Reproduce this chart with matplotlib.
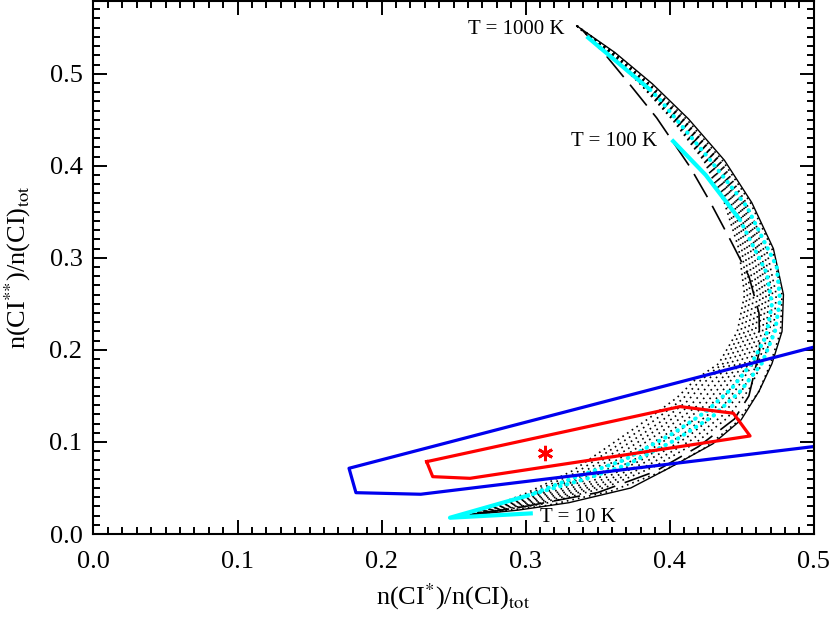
import matplotlib
matplotlib.use("Agg")
import matplotlib.pyplot as plt

plt.rcParams['font.family'] = ['Liberation Serif', 'DejaVu Serif']
plt.rcParams['mathtext.fontset'] = 'stix'

# Gestippelde modelcurves (van binnen naar buiten), bovendeel op vaste y, dan onderdeel
dot_x = [
    [0.3355, 0.358, 0.380, 0.402, 0.424, 0.438, 0.448, 0.452, 0.447, 0.434, 0.418, 0.405, 0.385, 0.360, 0.333, 0.300, 0.2614],
    [0.3355, 0.3585, 0.3805, 0.403, 0.425, 0.4395, 0.450, 0.454, 0.4495, 0.437, 0.4215, 0.4085, 0.3885, 0.363, 0.3355, 0.3015, 0.2614],
    [0.3355, 0.359, 0.381, 0.404, 0.426, 0.441, 0.452, 0.456, 0.452, 0.440, 0.425, 0.412, 0.392, 0.366, 0.338, 0.303, 0.2614],
    [0.3355, 0.359, 0.3815, 0.4045, 0.427, 0.4425, 0.454, 0.4585, 0.4545, 0.443, 0.429, 0.4155, 0.395, 0.369, 0.340, 0.304, 0.2614],
    [0.3355, 0.359, 0.382, 0.405, 0.428, 0.444, 0.456, 0.461, 0.457, 0.446, 0.433, 0.419, 0.398, 0.372, 0.342, 0.305, 0.2614],
    [0.3355, 0.3595, 0.383, 0.406, 0.4295, 0.4455, 0.458, 0.463, 0.4595, 0.449, 0.4365, 0.4225, 0.4015, 0.375, 0.3445, 0.3065, 0.2614],
    [0.3355, 0.360, 0.384, 0.407, 0.431, 0.447, 0.460, 0.465, 0.462, 0.452, 0.440, 0.426, 0.405, 0.378, 0.347, 0.308, 0.2614],
    [0.3355, 0.3605, 0.3845, 0.408, 0.432, 0.4485, 0.4615, 0.467, 0.4645, 0.455, 0.4435, 0.4295, 0.4085, 0.3805, 0.349, 0.309, 0.2614],
    [0.3355, 0.361, 0.385, 0.409, 0.433, 0.450, 0.463, 0.469, 0.467, 0.458, 0.447, 0.433, 0.412, 0.383, 0.351, 0.310, 0.2614],
    [0.3355, 0.361, 0.3855, 0.4095, 0.434, 0.4515, 0.465, 0.4715, 0.4695, 0.461, 0.451, 0.4365, 0.415, 0.386, 0.3535, 0.3115, 0.2614],
    [0.3355, 0.361, 0.386, 0.410, 0.435, 0.453, 0.467, 0.474, 0.472, 0.464, 0.455, 0.440, 0.418, 0.389, 0.356, 0.313, 0.2614],
    [0.3355, 0.362, 0.387, 0.412, 0.437, 0.456, 0.471, 0.478, 0.477, 0.470, 0.462, 0.447, 0.425, 0.395, 0.360, 0.315, 0.2614],
]
dot_y = [
    [0.552, 0.522, 0.488, 0.450, 0.405, 0.360, 0.310, 0.260, 0.220, 0.185, 0.168, 0.148, 0.125, 0.098, 0.069, 0.044, 0.0207],
    [0.552, 0.522, 0.488, 0.450, 0.405, 0.360, 0.310, 0.260, 0.220, 0.185, 0.167, 0.146, 0.1225, 0.0955, 0.067, 0.043, 0.0207],
    [0.552, 0.522, 0.488, 0.450, 0.405, 0.360, 0.310, 0.260, 0.220, 0.185, 0.166, 0.144, 0.120, 0.093, 0.065, 0.042, 0.0207],
    [0.552, 0.522, 0.488, 0.450, 0.405, 0.360, 0.310, 0.260, 0.220, 0.185, 0.165, 0.1415, 0.1175, 0.0905, 0.0635, 0.041, 0.0207],
    [0.552, 0.522, 0.488, 0.450, 0.405, 0.360, 0.310, 0.260, 0.220, 0.185, 0.164, 0.139, 0.115, 0.088, 0.062, 0.040, 0.0207],
    [0.552, 0.522, 0.488, 0.450, 0.405, 0.360, 0.310, 0.260, 0.220, 0.185, 0.163, 0.137, 0.1125, 0.0855, 0.060, 0.039, 0.0207],
    [0.552, 0.522, 0.488, 0.450, 0.405, 0.360, 0.310, 0.260, 0.220, 0.185, 0.162, 0.135, 0.110, 0.083, 0.058, 0.038, 0.0207],
    [0.552, 0.522, 0.488, 0.450, 0.405, 0.360, 0.310, 0.260, 0.220, 0.185, 0.1605, 0.133, 0.1075, 0.0805, 0.056, 0.0365, 0.0207],
    [0.552, 0.522, 0.488, 0.450, 0.405, 0.360, 0.310, 0.260, 0.220, 0.185, 0.159, 0.131, 0.105, 0.078, 0.054, 0.035, 0.0207],
    [0.552, 0.522, 0.488, 0.450, 0.405, 0.360, 0.310, 0.260, 0.220, 0.185, 0.158, 0.1285, 0.102, 0.0755, 0.0525, 0.034, 0.0207],
    [0.552, 0.522, 0.488, 0.450, 0.405, 0.360, 0.310, 0.260, 0.220, 0.185, 0.157, 0.126, 0.099, 0.073, 0.051, 0.033, 0.0207],
    [0.552, 0.522, 0.488, 0.450, 0.405, 0.360, 0.310, 0.260, 0.220, 0.185, 0.155, 0.122, 0.094, 0.068, 0.047, 0.031, 0.0207],
]

# Doorgetrokken zwarte curve (buitenrand)
solid_x = [0.3355, 0.362, 0.388, 0.413, 0.438, 0.457, 0.472, 0.479, 0.478, 0.471, 0.462, 0.4496, 0.430, 0.400, 0.373, 0.330, 0.295, 0.2614]
solid_y = [0.552, 0.523, 0.489, 0.451, 0.406, 0.360, 0.310, 0.260, 0.220, 0.185, 0.155, 0.124, 0.098, 0.072, 0.050, 0.034, 0.026, 0.0207]

# Gestreepte zwarte curve (binnenrand)
dash_x = [0.339, 0.3562, 0.3725, 0.391, 0.414, 0.428, 0.4426, 0.455, 0.462, 0.4625, 0.455, 0.445, 0.420, 0.390, 0.350, 0.300, 0.2614]
dash_y = [0.548, 0.519, 0.488, 0.452, 0.399, 0.361, 0.318, 0.280, 0.240, 0.200, 0.150, 0.125, 0.095, 0.068, 0.045, 0.030, 0.0207]

# Cyaan curves
cyan_a_x = [0.3424, 0.3864, 0.3933, 0.428, 0.4535, 0.4743, 0.4766, 0.4731, 0.464, 0.449, 0.430, 0.405, 0.370, 0.342, 0.303, 0.2475, 0.305]
cyan_a_y = [0.5405, 0.4826, 0.4717, 0.4065, 0.3558, 0.2905, 0.2543, 0.220, 0.1855, 0.155, 0.128, 0.103, 0.075, 0.060, 0.0424, 0.0177, 0.0225]
cyan_b_x = [0.4014, 0.425, 0.4488, 0.4674, 0.471, 0.467, 0.457, 0.443, 0.4257, 0.4025, 0.3678, 0.335, 0.303]
cyan_b_y = [0.4283, 0.390, 0.3413, 0.2834, 0.250, 0.215, 0.1855, 0.158, 0.1335, 0.1094, 0.080, 0.062, 0.0424]

# Waarnemingscontouren
blue_x = [0.5, 0.1774, 0.1822, 0.2272, 0.5]
blue_y = [0.203, 0.0714, 0.0449, 0.0432, 0.095]
red_x = [0.2313, 0.2355, 0.2614, 0.4558, 0.4442, 0.4072, 0.2313]
red_y = [0.0786, 0.0623, 0.0605, 0.1065, 0.1312, 0.1384, 0.0786]
obs_x = [0.3135]
obs_y = [0.0877]

# Temperatuurlabels
t_labels = ["T = 1000 K", "T = 100 K", "T = 10 K"]
t_x = [0.327, 0.391, 0.310]
t_y = [0.548, 0.4264, 0.0175]
t_ha = ["right", "right", "left"]

fig = plt.figure(figsize=(8.31, 6.17), dpi=100)
ax = fig.add_axes([0.1125, 0.1345, 0.8667, 0.8639])

for xs, ys in zip(dot_x, dot_y):
    ax.plot(xs, ys, color="black", lw=1.2, linestyle=(0, (1, 2.4)))
ax.plot(solid_x, solid_y, color="black", lw=1.0)
ax.plot(dash_x, dash_y, color="black", lw=1.2, linestyle=(0, (16, 6)))

# cyaan: doorgetrokken aan de uiteinden, dikke stippen ertussen
ax.plot(cyan_a_x[:2], cyan_a_y[:2], color="cyan", lw=3.0, solid_capstyle="butt")
ax.plot(cyan_a_x[1:15], cyan_a_y[1:15], color="cyan", lw=3.0, linestyle=(0, (0.1, 1.6)), dash_capstyle="round")
ax.plot(cyan_a_x[14:], cyan_a_y[14:], color="cyan", lw=3.0, solid_capstyle="butt")
ax.plot(cyan_b_x[:3], cyan_b_y[:3], color="cyan", lw=3.0, solid_capstyle="butt")
ax.plot(cyan_b_x[2:], cyan_b_y[2:], color="cyan", lw=3.0, linestyle=(0, (0.1, 1.6)), dash_capstyle="round")

ax.plot(blue_x, blue_y, color="#0000ee", lw=2.3)
ax.plot(red_x, red_y, color="red", lw=2.3)
ax.plot(obs_x, obs_y, linestyle="none", marker=(6, 2, 0), markersize=11, mew=2, color="red")

for lab, x, y, ha in zip(t_labels, t_x, t_y, t_ha):
    ax.text(x, y, lab, ha=ha, va="center", fontsize=15)

ax.set_xlim(0.0, 0.5)
ax.set_ylim(0.0, 0.579)
ax.set_xticks([0.0, 0.1, 0.2, 0.3, 0.4, 0.5])
ax.set_xticklabels(["0.0", "0.1", "0.2", "0.3", "0.4", "0.5"])
ax.set_yticks([0.0, 0.1, 0.2, 0.3, 0.4, 0.5])
ax.set_yticklabels(["0.0", "0.1", "0.2", "0.3", "0.4", "0.5"])
ax.set_xticks([i * 0.01 for i in range(51)], minor=True)
ax.set_yticks([i * 0.01 for i in range(58)], minor=True)
ax.tick_params(which="both", direction="in", top=True, right=True, width=1.4, labelsize=19)
ax.tick_params(which="major", length=10)
ax.tick_params(which="minor", length=5)
ax.tick_params(axis="x", pad=12)
ax.tick_params(axis="y", pad=8)
for s in ax.spines.values():
    s.set_linewidth(1.5)

ax.set_xlabel(r"n(CI$^{*}$)/n(CI)$_{\rm tot}$", fontsize=19, labelpad=6)
ax.set_ylabel(r"n(CI$^{{*}{*}}$)/n(CI)$_{\rm tot}$", fontsize=19, labelpad=12)

fig.savefig("out.png", dpi=100)
